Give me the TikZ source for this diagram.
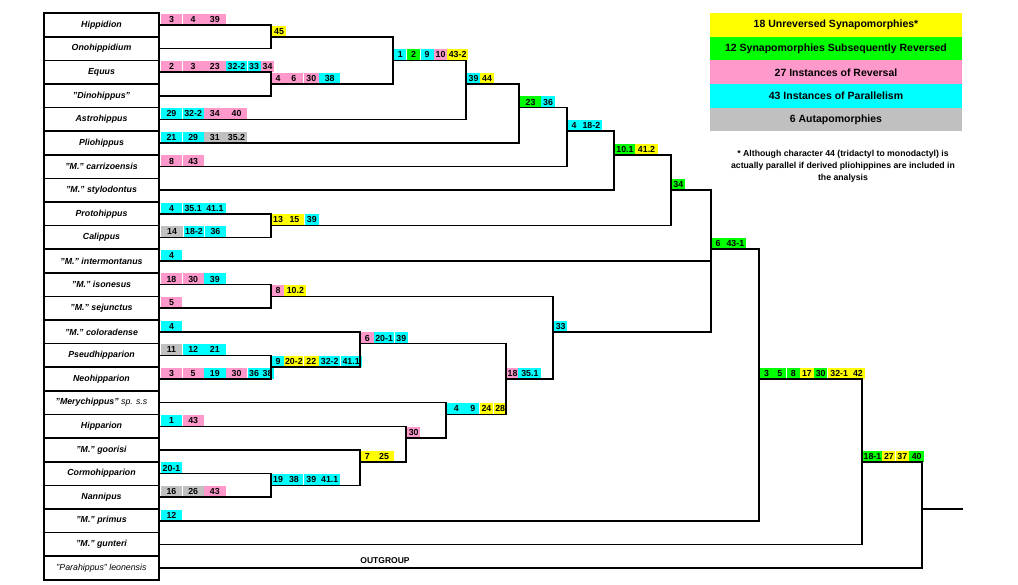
\documentclass[tikz,border=0pt]{standalone}
\usepackage{fontspec}
\setmainfont{Liberation Sans}
\definecolor{cy}{HTML}{FFFF00}
\definecolor{cg}{HTML}{00FF00}
\definecolor{cp}{HTML}{FF99CC}
\definecolor{cc}{HTML}{00FFFF}
\definecolor{cs}{HTML}{C0C0C0}
\tikzset{
  taxon/.style={draw, line width=1.6pt, minimum width=115pt, minimum height=23.6pt, inner sep=0pt,
    font=\fontsize{8.8}{10}\selectfont\bfseries\itshape},
  branch/.style={line width=1.6pt, line cap=rect},
  cell/.style={inner sep=0pt, minimum height=11pt, text height=6.4pt, text depth=0pt, anchor=south west,
    font=\fontsize{8.8}{9}\selectfont\bfseries},
  legendbox/.style={minimum width=252pt, minimum height=23.6pt, inner sep=0pt,
    font=\fontsize{10.5}{12}\selectfont\bfseries},
  note/.style={align=center, font=\fontsize{8.7}{12}\selectfont\bfseries},
}
\newcommand\taxon[2]{\node[taxon] (t#1) at (101.5,{25.1+23.6*#1}) {#2};}
\newcommand\charcells[3]{%
  \coordinate (cur) at ([xshift=0.8pt]#2);
  \foreach \w/\c/\t [count=\k] in {#3} {
    \node[cell, fill=\c, minimum width=\w pt] (#1-\k) at (cur) {\t};
    \coordinate (cur) at (#1-\k.south east);
  }%
}
\begin{document}
\begin{tikzpicture}[x=1pt,y=-1pt]
\useasboundingbox (0,0) rectangle (1018,585);
% taxa
\taxon{0}{Hippidion}
\taxon{1}{Onohippidium}
\taxon{2}{Equus}
\taxon{3}{"Dinohippus"}
\taxon{4}{Astrohippus}
\taxon{5}{Pliohippus}
\taxon{6}{"M." carrizoensis}
\taxon{7}{"M." stylodontus}
\taxon{8}{Protohippus}
\taxon{9}{Calippus}
\taxon{10}{"M." intermontanus}
\taxon{11}{"M." isonesus}
\taxon{12}{"M." sejunctus}
\taxon{13}{"M." coloradense}
\taxon{14}{Pseudhipparion}
\taxon{15}{Neohipparion}
\taxon{16}{"Merychippus" {\mdseries sp. s.s}}
\taxon{17}{Hipparion}
\taxon{18}{"M." goorisi}
\taxon{19}{Cormohipparion}
\taxon{20}{Nannipus}
\taxon{21}{"M." primus}
\taxon{22}{"M." gunteri}
\taxon{23}{{\mdseries "Parahippus" leonensis}}
% internal nodes
\coordinate (A) at (271,36.9);
\coordinate (B) at (271,84.1);
\coordinate (C) at (393,60.5);
\coordinate (D) at (466,84.1);
\coordinate (E) at (519,107.7);
\coordinate (F) at (567,131.3);
\coordinate (G) at (614,154.9);
\coordinate (H) at (271,225.5);
\coordinate (I) at (671,190.3);
\coordinate (J) at (711,249.3);
\coordinate (K) at (553,331.9);
\coordinate (L) at (271,296.5);
\coordinate (M) at (506,379.1);
\coordinate (N) at (360,343.7);
\coordinate (P) at (271,367.3);
\coordinate (O) at (445.7,414.5);
\coordinate (Q) at (406,438.1);
\coordinate (R) at (360,461.7);
\coordinate (S) at (271,485.3);
\coordinate (T) at (759,379.1);
\coordinate (U) at (862,461.7);
\coordinate (V) at (922,508.9);
\coordinate (root) at (961.7,508.9);
% terminal character states
\charcells{c0}{t0.east}{21.3/cp/3,21.3/cp/4,21.3/cp/39}
\charcells{c2}{t2.east}{21.3/cp/2,21.3/cp/3,21.3/cp/23,21.3/cc/32-2,13/cc/33,13/cp/34}
\charcells{c4}{t4.east}{21.3/cc/29,21.3/cc/32-2,21.3/cp/34,21.3/cp/40}
\charcells{c5}{t5.east}{21.3/cc/21,21.3/cc/29,21.3/cs/31,21.3/cs/35.2}
\charcells{c6}{t6.east}{21.3/cp/8,21.3/cp/43}
\charcells{c8}{t8.east}{21.3/cc/4,21.3/cc/35.1,21.3/cc/41.1}
\charcells{c9}{t9.east}{22.5/cs/14,20.7/cc/18-2,21.3/cc/36}
\charcells{c10}{t10.east}{21.3/cc/4}
\charcells{c11}{t11.east}{21.3/cp/18,21.3/cp/30,21.3/cc/39}
\charcells{c12}{t12.east}{21.3/cp/5}
\charcells{c13}{t13.east}{21.3/cc/4}
\charcells{c14}{t14.east}{21.3/cs/11,21.3/cc/12,21.3/cc/21}
\charcells{c15}{t15.east}{21.3/cp/3,21.3/cp/5,21.3/cc/19,21.3/cp/30,13/cc/36,13/cc/38}
\charcells{c17}{t17.east}{21.3/cc/1,21.3/cp/43}
\charcells{c19}{t19.east}{21.3/cc/20-1}
\charcells{c20}{t20.east}{21.3/cs/16,21.3/cs/26,21.3/cp/43}
\charcells{c21}{t21.east}{21.3/cc/12}
% internal character states
\charcells{cA}{A}{14/cy/45}
\charcells{cB}{B}{12/cp/4,19/cp/6,15/cp/30,21/cc/38}
\charcells{cC}{C}{12.4/cc/1,13.3/cg/2,13.3/cc/9,12.7/cp/10,20.7/cy/43-2}
\charcells{cD}{D}{13/cc/39,13.3/cy/44}
\charcells{cE}{E}{21/cg/23,13.3/cc/36}
\charcells{cF}{F}{12/cc/4,22/cc/18-2}
\charcells{cG}{G}{20/cg/10.1,22.3/cy/41.2}
\charcells{cI}{I}{12.7/cg/34}
\charcells{cH}{H}{12/cy/13,20/cy/15,14/cc/39}
\charcells{cJ}{J}{12/cg/6,22/cg/43-1}
\charcells{cL}{L}{12/cp/8,22/cy/10.2}
\charcells{cP}{P}{12/cc/9,19/cy/20-2,15/cy/22,21/cc/32-2,21/cc/41.1}
\charcells{cN}{N}{12.7/cp/6,20/cc/20-1,13.7/cc/39}
\charcells{cM}{M}{11/cp/18,23/cc/35.1}
\charcells{cO}{O}{19.3/cc/4,13/cc/9,13.3/cy/24,13.3/cy/28}
\charcells{cQ}{Q}{13.3/cp/30}
\charcells{cR}{R}{12.6/cy/7,20/cy/25}
\charcells{cS}{S}{12/cc/19,19/cc/38,15/cc/39,21/cc/41.1}
\charcells{cK}{K}{13.3/cc/33}
\charcells{cT}{T}{13/cg/3,13/cg/5,13/cg/8,13.4/cy/17,13.3/cg/30,23/cy/32-1,13.7/cy/42}
\charcells{cU}{U}{19/cg/18-1,13/cy/27,13/cy/37,15/cg/40}
% branches
\draw[branch] (t0.east) -| (A);  \draw[branch] (t1.east) -| (A);
\draw[branch] (t2.east) -| (B);  \draw[branch] (t3.east) -| (B);
\draw[branch] (A) -| (C);        \draw[branch] (B) -| (C);
\draw[branch] (C) -| (D);        \draw[branch] (t4.east) -| (D);
\draw[branch] (D) -| (E);        \draw[branch] (t5.east) -| (E);
\draw[branch] (E) -| (F);        \draw[branch] (t6.east) -| (F);
\draw[branch] (F) -| (G);        \draw[branch] (t7.east) -| (G);
\draw[branch] (t8.east) -| (H);  \draw[branch] (t9.east) -| (H);
\draw[branch] (G) -| (I);        \draw[branch] (H) -| (I);
\draw[branch] (I) -| (J);        \draw[branch] (t10.east) -| (J);  \draw[branch] (K) -| (J);
\draw[branch] (t11.east) -| (L); \draw[branch] (t12.east) -| (L);
\draw[branch] (t14.east) -| (P); \draw[branch] (t15.east) -| (P);
\draw[branch] (t13.east) -| (N); \draw[branch] (P) -| (N);
\draw[branch] (t19.east) -| (S); \draw[branch] (t20.east) -| (S);
\draw[branch] (t18.east) -| (R); \draw[branch] (S) -| (R);
\draw[branch] (t17.east) -| (Q); \draw[branch] (R) -| (Q);
\draw[branch] (t16.east) -| (O); \draw[branch] (Q) -| (O);
\draw[branch] (N) -| (M);        \draw[branch] (O) -| (M);
\draw[branch] (L) -| (K);        \draw[branch] (M) -| (K);
\draw[branch] (J) -| (T);        \draw[branch] (t21.east) -| (T);
\draw[branch] (T) -| (U);        \draw[branch] (t22.east) -| (U);
\draw[branch] (U) -| (V);        \draw[branch] (t23.east) -| (V);
\draw[branch] (V) -- (root);
\node[font=\fontsize{8.5}{10}\selectfont\bfseries] (outg) at (385,560.5) {OUTGROUP};
% legend
\node[legendbox, fill=cy] (lg1) at (836,25.1) {18 Unreversed Synapomorphies*};
\node[legendbox, fill=cg] (lg2) at (836,48.7) {12 Synapomorphies Subsequently Reversed};
\node[legendbox, fill=cp] (lg3) at (836,72.3) {27 Instances of Reversal};
\node[legendbox, fill=cc] (lg4) at (836,95.9) {43 Instances of Parallelism};
\node[legendbox, fill=cs] (lg5) at (836,119.5) {6 Autapomorphies};
\node[note] (fn) at (843,166) {* Although character 44 (tridactyl to monodactyl) is\\actually parallel if derived pliohippines are included in\\the analysis};
\end{tikzpicture}
\end{document}
